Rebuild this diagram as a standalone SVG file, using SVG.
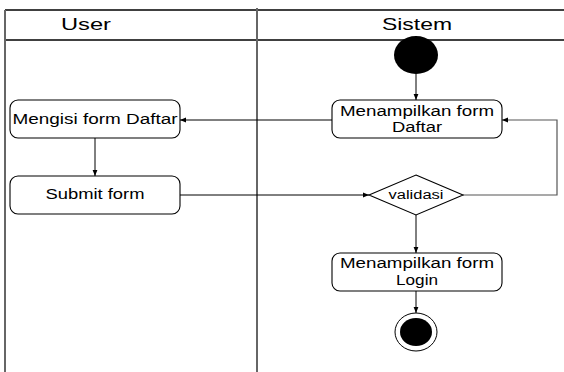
<svg xmlns="http://www.w3.org/2000/svg" width="564" height="372" viewBox="0 0 564 372">
<defs>
<style>
.box{fill:#fff;stroke:#000;stroke-width:1.1}
.t{font-family:"Liberation Sans",Arial,sans-serif;font-size:14px;fill:#000;text-anchor:middle}
.h{font-family:"Liberation Sans",Arial,sans-serif;font-size:17px;fill:#000;text-anchor:middle}
.c{fill:none;stroke:#000;stroke-width:1}
.g{fill:none;stroke:#555;stroke-width:1.2}
</style>
<marker id="arr" viewBox="0 0 10 10" refX="10" refY="5" markerWidth="6" markerHeight="6" orient="auto" markerUnits="userSpaceOnUse">
<path d="M0,1 L10,5 L0,9 z" fill="#000"/>
</marker>
</defs>
<rect width="564" height="372" fill="#fff"/>
<g id="frame">
<line x1="5" y1="10" x2="564" y2="10" stroke="#000" stroke-width="1.5"/>
<line x1="5" y1="40" x2="564" y2="40" stroke="#000" stroke-width="1.5"/>
<line x1="5" y1="10" x2="5" y2="372" stroke="#666" stroke-width="2"/>
<line x1="257" y1="8" x2="257" y2="372" stroke="#666" stroke-width="2"/>
<text class="h" x="86" y="30" textLength="50" lengthAdjust="spacingAndGlyphs">User</text>
<text class="h" x="417" y="30" textLength="70" lengthAdjust="spacingAndGlyphs">Sistem</text>
</g>
<g id="connectors">
<line class="c" x1="416" y1="74" x2="416" y2="100" marker-end="url(#arr)"/>
<line class="c" x1="332" y1="120" x2="180" y2="120" marker-end="url(#arr)"/>
<line class="c" x1="95" y1="138" x2="95" y2="176" marker-end="url(#arr)"/>
<line class="c" x1="180" y1="195" x2="369" y2="195" marker-end="url(#arr)"/>
<polyline class="g" points="463,195 557,195 557,120 502,120" marker-end="url(#arr)"/>
<line class="c" x1="416" y1="215" x2="416" y2="253" marker-end="url(#arr)"/>
<line class="c" x1="416" y1="291" x2="416" y2="313" marker-end="url(#arr)"/>
</g>
<g id="start">
<ellipse cx="416" cy="55" rx="22" ry="19" fill="#000"/>
</g>
<g id="tampil-daftar">
<rect class="box" x="332" y="100" width="170" height="38" rx="8"/>
<text class="t" x="417" y="116" textLength="154" lengthAdjust="spacingAndGlyphs">Menampilkan form</text>
<text class="t" x="417" y="132" textLength="50" lengthAdjust="spacingAndGlyphs">Daftar</text>
</g>
<g id="mengisi">
<rect class="box" x="10" y="100" width="170" height="38" rx="8"/>
<text class="t" x="95" y="124" textLength="165" lengthAdjust="spacingAndGlyphs">Mengisi form Daftar</text>
</g>
<g id="submit">
<rect class="box" x="10" y="176" width="170" height="38" rx="8"/>
<text class="t" x="95" y="199" textLength="99" lengthAdjust="spacingAndGlyphs">Submit form</text>
</g>
<g id="validasi">
<polygon class="box" points="416,175 463,195 416,215 369,195"/>
<text class="t" x="416" y="199" style="font-size:12px" textLength="55" lengthAdjust="spacingAndGlyphs">validasi</text>
</g>
<g id="tampil-login">
<rect class="box" x="332" y="253" width="170" height="38" rx="8"/>
<text class="t" x="417" y="268" textLength="154" lengthAdjust="spacingAndGlyphs">Menampilkan form</text>
<text class="t" x="417" y="285" textLength="42" lengthAdjust="spacingAndGlyphs">Login</text>
</g>
<g id="end">
<ellipse cx="416" cy="332" rx="21" ry="19" fill="#fff" stroke="#000" stroke-width="1"/>
<ellipse cx="416" cy="332" rx="16" ry="14" fill="#000"/>
</g>
</svg>
